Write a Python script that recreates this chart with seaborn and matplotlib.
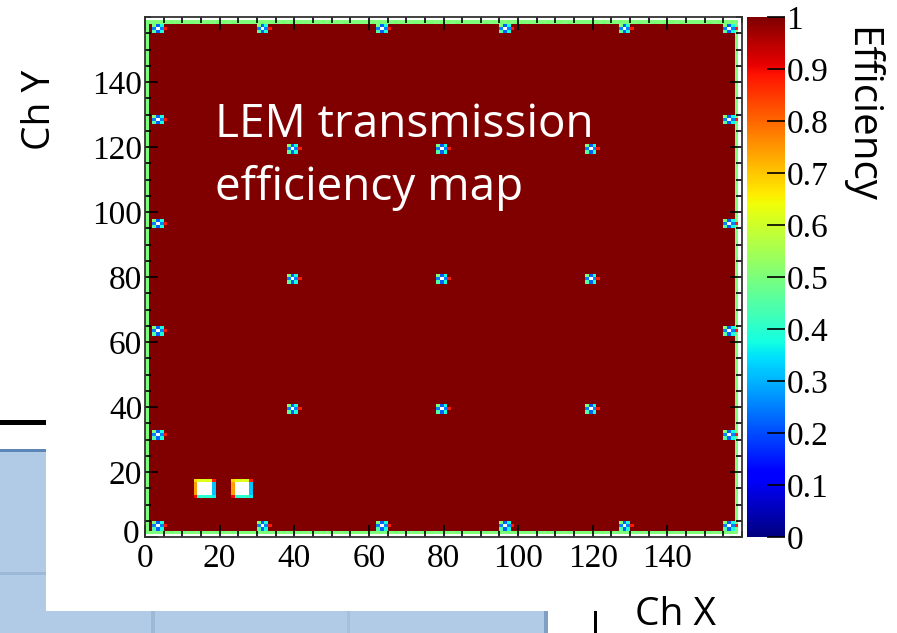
import numpy as np
import matplotlib
matplotlib.use("Agg")
import matplotlib.pyplot as plt
import matplotlib.transforms as mtransforms
import seaborn as sns
from matplotlib.patches import Rectangle
from matplotlib.ticker import MultipleLocator

# ---- channel map data -------------------------------------------------------
n_ch = 160
base_eff = 1.0            # nominal transmission efficiency
border_eff = 0.5          # outer ring of channels
edge_spot_pos = [3, 31, 63, 96, 128, 156]   # spots along the frame
inner_spot_pos = [39, 79, 119]              # spots in the active area
# spot footprint: rows from y+1 down to y-1, columns x-1 .. x+2
spot_eff = [[0.50, 0.22, 0.38, 1.00],
            [0.25, np.nan, 0.25, 0.88],
            [0.45, 0.22, 0.38, 1.00]]
# two dead regions (6x6 channels), rows from top to bottom
dead_x0 = [13, 23]
dead_y0 = 12
dead_eff = [[0.68, 0.62, 0.62, 0.62, 0.62, 0.88],
            [0.74, np.nan, np.nan, np.nan, np.nan, 0.32],
            [0.74, np.nan, np.nan, np.nan, np.nan, 0.32],
            [0.74, np.nan, np.nan, np.nan, np.nan, 0.32],
            [0.74, np.nan, np.nan, np.nan, np.nan, 0.32],
            [0.90, 0.40, 0.40, 0.40, 0.40, 0.36]]

x_ticks = [0, 20, 40, 60, 80, 100, 120, 140]
y_ticks = [0, 20, 40, 60, 80, 100, 120, 140]
cbar_ticks = [0.0, 0.1, 0.2, 0.3, 0.4, 0.5, 0.6, 0.7, 0.8, 0.9, 1.0]
cbar_labels = ["0", "0.1", "0.2", "0.3", "0.4", "0.5", "0.6", "0.7", "0.8", "0.9", "1"]

# ---- build the 2D efficiency matrix ------------------------------------------
eff = np.full((n_ch, n_ch), base_eff)
eff[1, :] = border_eff
eff[n_ch - 2, :] = border_eff
eff[:, 0] = border_eff
eff[:, n_ch - 2] = border_eff
eff[0, :] = np.nan
eff[n_ch - 1, :] = np.nan
eff[:, n_ch - 1] = np.nan


def put_spot(cx, cy):
    for r, row in enumerate(spot_eff):
        y = cy + 1 - r
        for c, v in enumerate(row):
            x = cx - 1 + c
            if v != 1.0:
                eff[y, x] = v


for p in edge_spot_pos:
    put_spot(p, edge_spot_pos[0])
    put_spot(p, edge_spot_pos[-1])
    put_spot(edge_spot_pos[0], p)
    put_spot(edge_spot_pos[-1], p)
for px in inner_spot_pos:
    for py in inner_spot_pos:
        put_spot(px, py)

for x0 in dead_x0:
    for r, row in enumerate(dead_eff):
        y = dead_y0 + len(dead_eff) - 1 - r
        for c, v in enumerate(row):
            eff[y, x0 + c] = v

# ---- figure -----------------------------------------------------------------
W, H = 897, 633
fig = plt.figure(figsize=(W / 100, H / 100), dpi=100)
fig.patch.set_facecolor("white")

# slide background pieces around the picture
light_blue = "#b1cbe6"
fig.patches.append(Rectangle((0, 0), 46 / W, (633 - 449) / H, transform=fig.transFigure,
                             facecolor=light_blue, edgecolor="none", zorder=0))
fig.patches.append(Rectangle((0, 0), 548 / W, 22 / H, transform=fig.transFigure,
                             facecolor=light_blue, edgecolor="none", zorder=0))
fig.patches.append(Rectangle((0, (633 - 452) / H), 46 / W, 3 / H, transform=fig.transFigure,
                             facecolor="#5b86b6", edgecolor="none", zorder=0))
fig.patches.append(Rectangle((0, (633 - 575) / H), 46 / W, 3 / H, transform=fig.transFigure,
                             facecolor="#9db9d8", edgecolor="none", zorder=0))
fig.patches.append(Rectangle((0, (633 - 425) / H), 46 / W, 5 / H, transform=fig.transFigure,
                             facecolor="black", edgecolor="none", zorder=0))
fig.patches.append(Rectangle((151 / W, 0), 4 / W, 22 / H, transform=fig.transFigure,
                             facecolor="#9db9d8", edgecolor="none", zorder=0))
fig.patches.append(Rectangle((347 / W, 0), 3 / W, 22 / H, transform=fig.transFigure,
                             facecolor="#a6c0dc", edgecolor="none", zorder=0))
fig.patches.append(Rectangle((544 / W, 0), 4 / W, 22 / H, transform=fig.transFigure,
                             facecolor="#7f9fc4", edgecolor="none", zorder=0))
fig.patches.append(Rectangle((594 / W, 0), 3 / W, 22 / H, transform=fig.transFigure,
                             facecolor="black", edgecolor="none", zorder=0))

ax = fig.add_axes([145 / W, 96 / H, 597 / W, 520 / H])
cax = fig.add_axes([747 / W, 96 / H, 38 / W, 520 / H])

sns.heatmap(eff, ax=ax, cbar_ax=cax, cmap="jet", vmin=0, vmax=1,
            xticklabels=False, yticklabels=False, square=False)
ax.set_facecolor("white")
ax.set_xlim(0, n_ch)
ax.set_ylim(0, n_ch)
for s in ax.spines.values():
    s.set_visible(True)
    s.set_color("#333333")
    s.set_linewidth(1.3)

serif = "Liberation Serif"
ax.set_xticks(x_ticks)
ax.set_yticks(y_ticks)
ax.set_xticklabels([str(v) for v in x_ticks], fontfamily=serif, fontsize=24)
ax.set_yticklabels([str(v) for v in y_ticks], fontfamily=serif, fontsize=24)
ax.xaxis.set_minor_locator(MultipleLocator(5))
ax.yaxis.set_minor_locator(MultipleLocator(5))
ax.tick_params(which="both", direction="in", top=True, right=True,
               bottom=True, left=True, color="black", width=1.2)
ax.tick_params(which="major", length=9)
ax.tick_params(which="minor", length=4.5)
ax.tick_params(axis="x", pad=5)
ax.tick_params(axis="y", pad=2)
# nudge the y "0" label slightly so the two origin labels sit apart
origin_label = ax.get_yticklabels()[0]
origin_label.set_transform(origin_label.get_transform() +
                           mtransforms.ScaledTranslation(-3 / 100, 6 / 100, fig.dpi_scale_trans))

cax.set_yticks(cbar_ticks)
cax.set_yticklabels(cbar_labels, fontfamily=serif, fontsize=24)
cax.yaxis.set_ticks_position("right")
cax.tick_params(direction="in", length=13, width=1.2, color="black", pad=1)

fig.text(40 / W, 1 - 110 / H, "Ch Y", rotation=90, ha="center", va="center",
         fontfamily="Open Sans", fontsize=28, color="black")
fig.text(675 / W, 1 - 625 / H, "Ch X", ha="center", va="baseline",
         fontfamily="Open Sans", fontsize=28, color="black")
fig.text(861 / W, 1 - 115 / H, "Efficiency", rotation=270, ha="center", va="center",
         fontfamily="Open Sans", fontsize=29, color="black")
fig.text(215 / W, 1 - 137 / H, "LEM transmission", ha="left", va="baseline",
         fontfamily="Open Sans", fontsize=33, color="white")
fig.text(215 / W, 1 - 200 / H, "efficiency map", ha="left", va="baseline",
         fontfamily="Open Sans", fontsize=33, color="white")

fig.savefig("out.png", dpi=100)
